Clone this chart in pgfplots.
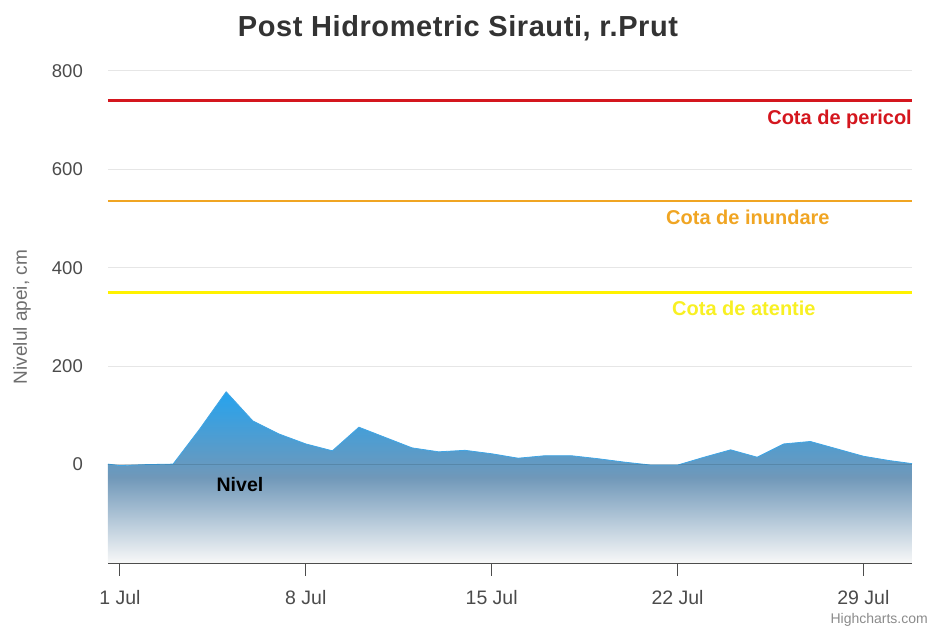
\documentclass[border=0pt]{standalone}
\usepackage{fontspec}
\setmainfont{Liberation Sans}
\newfontfamily\titlefont[LetterSpace=2]{Liberation Sans}
\usepackage{pgfplots}
\pgfplotsset{compat=1.18}
\definecolor{pericol}{RGB}{212,22,30}
\definecolor{inundare}{RGB}{240,165,35}
\definecolor{atentie}{RGB}{255,242,0}
\definecolor{atentietxt}{RGB}{248,240,35}
\definecolor{gridgray}{RGB}{230,230,230}
\definecolor{axisgray}{RGB}{77,77,77}
\definecolor{labgray}{RGB}{75,75,75}
\definecolor{titlegray}{RGB}{51,51,51}
\definecolor{ylabgray}{RGB}{110,110,110}
\definecolor{areatop}{RGB}{38,163,238}
\definecolor{areamid}{RGB}{112,152,185}
\definecolor{areabot}{RGB}{248,248,248}
\definecolor{arealine}{RGB}{65,165,228}
\begin{document}
\begin{tikzpicture}
\begin{axis}[
  at={(0,0)}, anchor=south west,
  scale only axis, width=804pt, height=492pt,
  xmin=0.55, xmax=30.83, ymin=-200, ymax=800,
  axis x line*=bottom, axis y line*=left,
  y axis line style={draw=none},
  x axis line style={draw=axisgray, line width=1.5pt},
  xtick={1,8,15,22,29},
  xticklabels={1 Jul,8 Jul,15 Jul,22 Jul,29 Jul},
  ytick={0,200,400,600,800},
  ymajorgrids, grid style={gridgray, line width=1pt},
  tick align=outside, major tick length=13pt,
  xtick style={draw=axisgray, line width=1pt},
  ytick style={draw=none},
  yticklabel style={font=\fontsize{18.5}{20}\selectfont, text=labgray, inner sep=0pt, xshift=-12pt},
  xticklabel style={font=\fontsize{19.5}{22}\selectfont, text=labgray, inner sep=0pt, yshift=-14pt},
  /pgf/number format/assume math mode=true,
]
\addplot[draw=none, top color=areatop, bottom color=areabot, middle color=areamid] coordinates {
(0.55,-200) (0.55,1) (1,-2) (2,0) (3,1) (4,72) (5,148) (6,89) (7,62) (8,42) (9,28) (10,76)
(11,55) (12,34) (13,26) (14,29) (15,22) (16,13) (17,18) (18,18) (19,12) (20,5)
(21,-1) (22,-1) (23,15) (24,30) (25,15) (26,42) (27,47) (28,32) (29,17) (30,8) (30.83,2) (30.83,-200)
} -- cycle;
\addplot[arealine, line width=0.8pt] coordinates {
(0.55,1) (1,-2) (2,0) (3,1) (4,72) (5,148) (6,89) (7,62) (8,42) (9,28) (10,76)
(11,55) (12,34) (13,26) (14,29) (15,22) (16,13) (17,18) (18,18) (19,12) (20,5)
(21,-1) (22,-1) (23,15) (24,30) (25,15) (26,42) (27,47) (28,32) (29,17) (30,8) (30.83,2)
};
\addplot[black, opacity=0.12, line width=1pt] coordinates {(0.55,0) (30.83,0)};
\addplot[pericol, line width=2.6pt] coordinates {(0.55,740) (30.83,740)};
\addplot[inundare, line width=2.6pt] coordinates {(0.55,536) (30.83,536)};
\addplot[atentie, line width=2.6pt] coordinates {(0.55,350) (30.83,350)};
\node[anchor=east, inner sep=0pt, text=pericol, font=\bfseries\fontsize{20}{24}\selectfont] at (axis cs:30.83,702) {Cota de pericol};
\node[inner sep=0pt, text=inundare, font=\bfseries\fontsize{20}{24}\selectfont] at (axis cs:24.65,502) {Cota de inundare};
\node[inner sep=0pt, text=atentietxt, font=\bfseries\fontsize{20}{24}\selectfont] at (axis cs:24.50,317) {Cota de atentie};
\node[inner sep=0pt, text=black, font=\bfseries\fontsize{19.5}{22}\selectfont] at (axis cs:5.52,-41) {Nivel};
\end{axis}
\node[text=titlegray, font=\titlefont\bfseries\fontsize{29}{34}\selectfont] at (350pt,535pt) {Post Hidrometric Sirauti, r.Prut};
\node[rotate=90, text=ylabgray, font=\fontsize{19}{22}\selectfont] at (-86pt,246pt) {Nivelul apei, cm};
\node[anchor=east, inner sep=0pt, text=ylabgray!80, font=\fontsize{14}{16}\selectfont] at (820pt,-57pt) {Highcharts.com};
\pgfresetboundingbox
\useasboundingbox (-108pt,-65pt) rectangle (822pt,563pt);
\end{tikzpicture}
\end{document}
